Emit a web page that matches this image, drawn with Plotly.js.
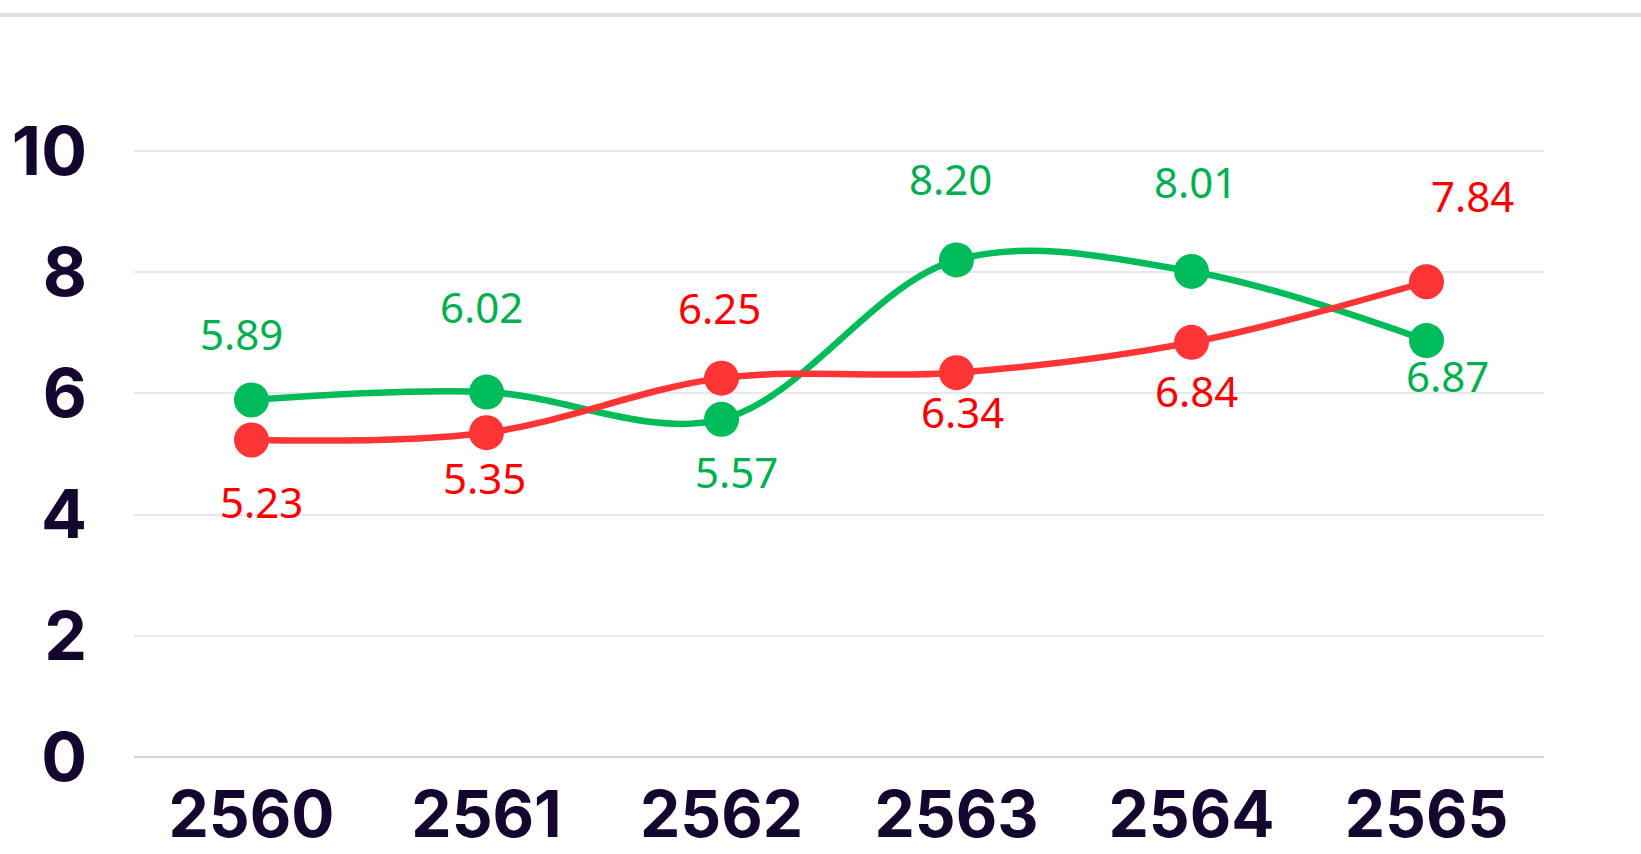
<!DOCTYPE html>
<html>
<head>
<meta charset="utf-8">
<script src="https://cdn.plot.ly/plotly-3.0.1.min.js"></script>
<style>
  html, body { margin: 0; padding: 0; background: #ffffff; }
  #chart { width: 1641px; height: 854px; }
</style>
</head>
<body>
<div id="chart"></div>
<script>
// ---- data ----
var years = ['2560', '2561', '2562', '2563', '2564', '2565'];
var greenValues = [5.89, 6.02, 5.57, 8.20, 8.01, 6.87];
var redValues = [5.23, 5.35, 6.25, 6.34, 6.84, 7.84];
var yTicks = [0, 2, 4, 6, 8, 10];

// ---- label offsets (pixels, relative to each point) ----
var greenLabelShift = [[-10, 66], [-5, 86], [15, -52], [-6, 81], [4, 90], [21, -35]];
var redLabelShift = [[10, -62], [-2, -45], [-2, 71], [6, -39], [5, -48], [46, 86]];

var GREEN_LINE = '#00bb5a';
var RED_LINE = '#ff3535';
var GREEN_TEXT = '#00b050';
var RED_TEXT = '#ff0000';
var TICK_COLOR = '#14062e';

function lineTrace(vals, color) {
  return {
    type: 'scatter',
    mode: 'lines+markers',
    x: years,
    y: vals,
    line: { color: color, width: 6.5, shape: 'spline', smoothing: 1 },
    marker: { color: color, size: 35 },
    hoverinfo: 'skip',
    cliponaxis: false
  };
}

function makeLabels(vals, shifts, color) {
  return vals.map(function (v, i) {
    return {
      x: i, y: v, xref: 'x', yref: 'y',
      text: v.toFixed(2), showarrow: false,
      xanchor: 'center', yanchor: 'middle',
      xshift: shifts[i][0], yshift: shifts[i][1],
      font: { family: 'Noto Sans, Open Sans, sans-serif', size: 42, color: color }
    };
  });
}

var marginL = 134, marginR = 97, marginT = 149, marginB = 97;
var plotH = 854 - marginT - marginB;
var topLineY = 1 + (marginT - 15) / plotH;

var layout = {
  width: 1641,
  height: 854,
  margin: { l: marginL, r: marginR, t: marginT, b: marginB, pad: 0 },
  paper_bgcolor: '#ffffff',
  plot_bgcolor: '#ffffff',
  showlegend: false,
  xaxis: {
    type: 'category',
    range: [-0.5, 5.5],
    showgrid: false,
    zeroline: false,
    showline: false,
    ticks: '',
    ticklabelstandoff: 15,
    tickfont: { family: 'Inter, sans-serif', size: 64, weight: 700, color: TICK_COLOR },
    fixedrange: true
  },
  yaxis: {
    range: [0, 10.03],
    tickvals: yTicks,
    ticktext: yTicks.map(String),
    showgrid: true,
    gridcolor: '#e9e9e9',
    gridwidth: 2,
    zeroline: true,
    zerolinecolor: '#d4d4d4',
    zerolinewidth: 2,
    showline: false,
    ticks: '',
    ticklabelstandoff: 46,
    tickfont: { family: 'Inter, sans-serif', size: 68, weight: 700, color: TICK_COLOR },
    fixedrange: true
  },
  shapes: [{
    type: 'line', xref: 'paper', yref: 'paper',
    x0: -1, x1: 2, y0: topLineY, y1: topLineY,
    line: { color: '#e0e0e0', width: 4 }
  }],
  annotations: makeLabels(greenValues, greenLabelShift, GREEN_TEXT)
    .concat(makeLabels(redValues, redLabelShift, RED_TEXT))
};

Plotly.newPlot('chart', [lineTrace(greenValues, GREEN_LINE), lineTrace(redValues, RED_LINE)], layout, { displayModeBar: false, staticPlot: true });
</script>
</body>
</html>
